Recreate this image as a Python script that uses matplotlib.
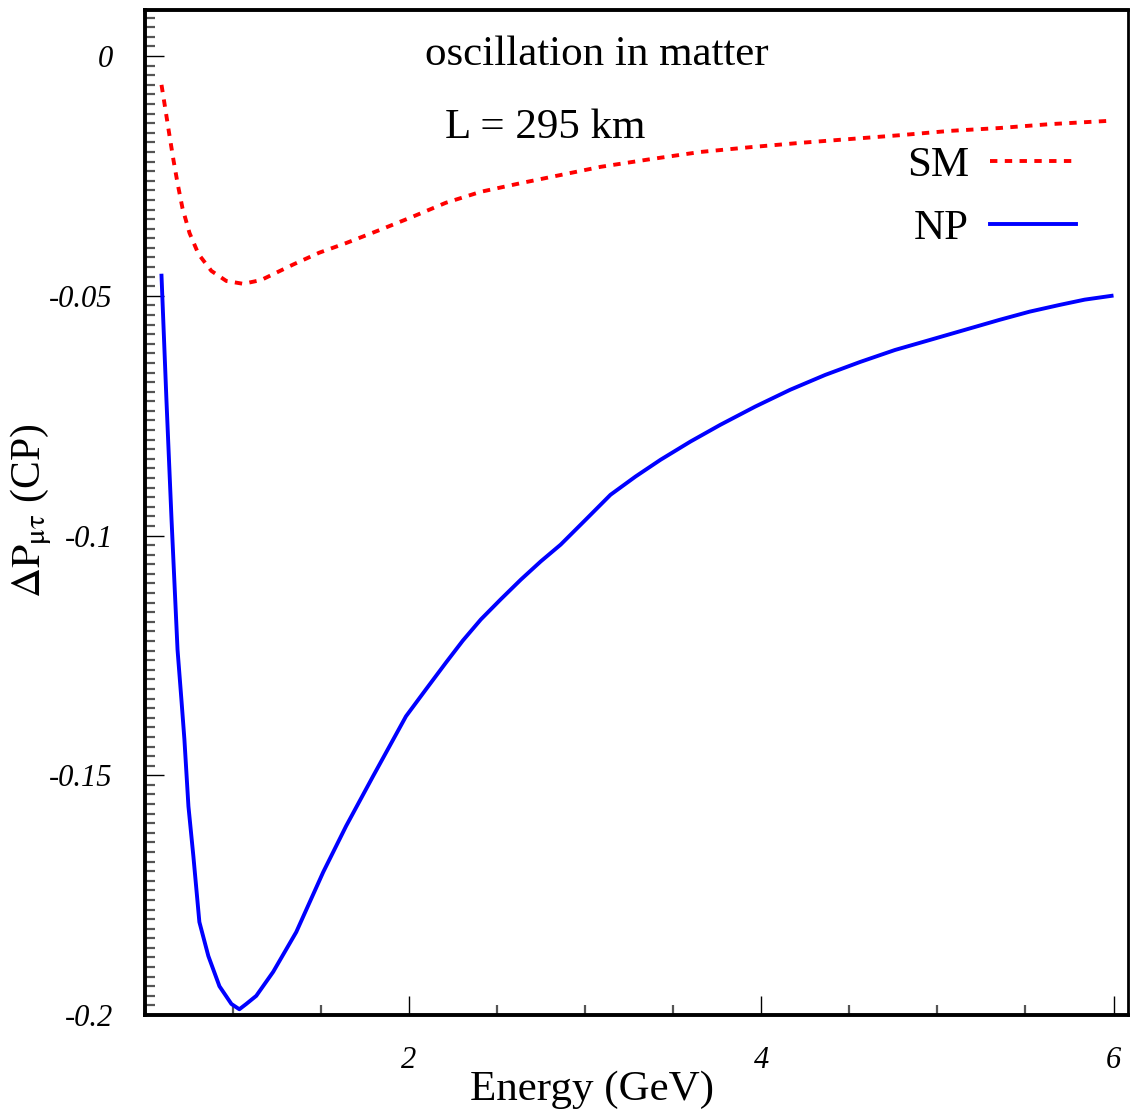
import matplotlib
matplotlib.use("Agg")
import matplotlib.pyplot as plt
import numpy as np
from matplotlib.ticker import MultipleLocator, FixedLocator

# values
energy_sm = [0.595, 0.618, 0.640, 0.663, 0.686, 0.714, 0.754, 0.805, 0.878, 0.963,
             1.059, 1.161, 1.341, 1.491, 1.643, 1.832, 2.021, 2.209, 2.408, 2.635,
             2.861, 3.088, 3.371, 3.654, 3.938, 4.221, 4.504, 4.788, 5.071, 5.354,
             5.637, 5.977]
dp_sm = [-0.0060, -0.0113, -0.0165, -0.0217, -0.0265, -0.0317, -0.0369, -0.0413,
         -0.0448, -0.0469, -0.0475, -0.0467, -0.0435, -0.0410, -0.0390, -0.0363,
         -0.0335, -0.0306, -0.0283, -0.0265, -0.0248, -0.0231, -0.0215, -0.0200,
         -0.0190, -0.0181, -0.0173, -0.0165, -0.0156, -0.0150, -0.0142, -0.0135]

energy_np = [0.595, 0.623, 0.652, 0.686, 0.708, 0.725, 0.748, 0.776, 0.810, 0.861,
             0.924, 0.992, 1.037, 1.076, 1.133, 1.229, 1.360, 1.513, 1.643, 1.796,
             1.983, 2.096, 2.210, 2.306, 2.408, 2.521, 2.635, 2.748, 2.861, 3.003,
             3.144, 3.286, 3.428, 3.598, 3.768, 3.966, 4.164, 4.363, 4.561, 4.759,
             4.958, 5.156, 5.354, 5.524, 5.694, 5.836, 5.989]
dp_np = [-0.0458, -0.0717, -0.0967, -0.1238, -0.1342, -0.1425, -0.1565, -0.1669,
         -0.1806, -0.1877, -0.1940, -0.1977, -0.1988, -0.1977, -0.1960, -0.1910,
         -0.1827, -0.1702, -0.1606, -0.1502, -0.1377, -0.1321, -0.1265, -0.1219,
         -0.1175, -0.1133, -0.1092, -0.1054, -0.1019, -0.0967, -0.0915, -0.0877,
         -0.0842, -0.0804, -0.0769, -0.0731, -0.0696, -0.0665, -0.0638, -0.0613,
         -0.0592, -0.0571, -0.0550, -0.0533, -0.0519, -0.0508, -0.0500]

xticks = [2, 4, 6]
xtick_labels = ["2", "4", "6"]
yticks = [0, -0.05, -0.1, -0.15, -0.2]
ytick_labels = ["0", "-0.05", "-0.1", "-0.15", "-0.2"]

plt.rcParams['font.family'] = ['Liberation Serif', 'DejaVu Serif']
plt.rcParams['mathtext.fontset'] = 'stix'

fig = plt.figure(figsize=(11.31, 11.17), dpi=100)
ax = fig.add_axes([0.128, 0.0913, 0.869, 0.8997])

ax.plot(energy_sm, dp_sm, color='red', lw=2.8, dashes=(1.9, 1.9), label='SM')
ax.plot(energy_np, dp_np, color='blue', lw=2.8, label='NP')

ax.set_xlim(0.5, 6.08)
ax.set_ylim(-0.2, 0.0096)

ax.xaxis.set_major_locator(FixedLocator(xticks))
ax.set_xticklabels(xtick_labels, fontstyle='italic', fontsize=22)
ax.xaxis.set_minor_locator(MultipleLocator(0.5))
ax.yaxis.set_major_locator(FixedLocator(yticks))
ax.set_yticklabels(ytick_labels, fontstyle='italic', fontsize=22)
ax.yaxis.set_minor_locator(MultipleLocator(0.002))

ax.tick_params(which='both', direction='in', top=False, right=False)
ax.tick_params(which='major', length=14, width=1.0, color='black')
ax.tick_params(axis='x', which='major', pad=22)
ax.tick_params(axis='y', which='major', pad=23)
ax.tick_params(which='minor', length=7, width=1.6, color='#555555')

for s in ax.spines.values():
    s.set_linewidth(2.8)
ax.spines['right'].set_linewidth(2.0)

ax.set_xlabel('Energy (GeV)', fontsize=31, labelpad=0)
ax.xaxis.set_label_coords(0.455, -0.055)
ax.set_ylabel(r'$\Delta\mathrm{P}_{\mathrm{μτ}}$ (CP)', fontsize=30)
ax.yaxis.set_label_coords(-0.092, 0.502)

ax.text(0.285, 0.9453, 'oscillation in matter', transform=ax.transAxes,
        fontsize=31, ha='left', va='baseline')
ax.text(0.305, 0.8726, 'L = 295 km', transform=ax.transAxes,
        fontsize=31, ha='left', va='baseline')

ax.legend(loc='upper right', bbox_to_anchor=(0.948, 0.865), frameon=False,
          markerfirst=False, fontsize=31, handlelength=2.0, handletextpad=0.5,
          borderaxespad=0, borderpad=0, labelspacing=0.56)

fig.savefig('out.png', dpi=100)
